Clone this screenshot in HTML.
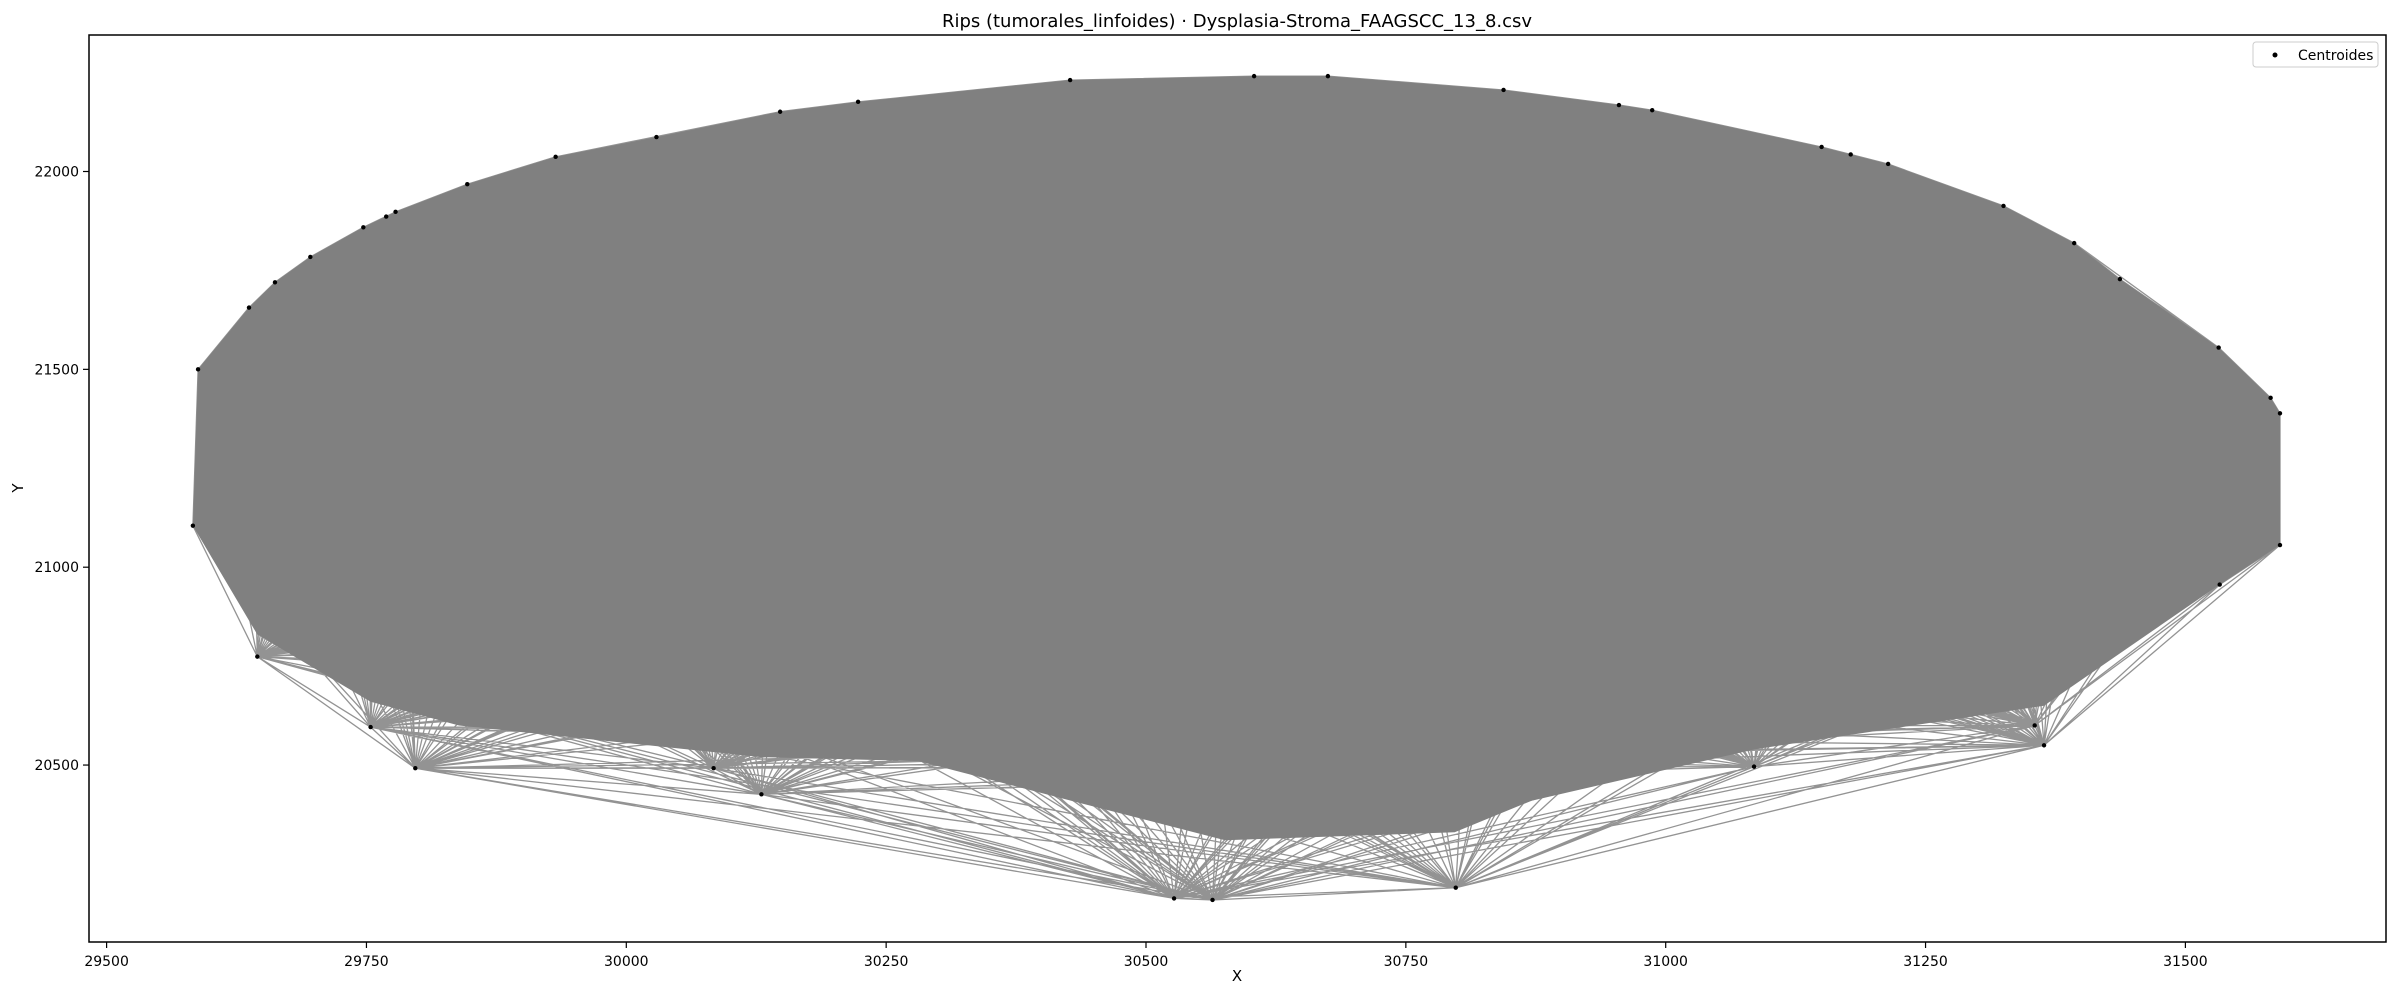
<!DOCTYPE html>
<html><head><meta charset="utf-8"><style>
html,body{margin:0;padding:0;background:#fff;}
svg{display:block;font-family:"DejaVu Sans","Liberation Sans",sans-serif;}
</style></head><body>
<svg id="chart" width="2400" height="1000" viewBox="0 0 2400 1000" xmlns="http://www.w3.org/2000/svg">
<rect x="0" y="0" width="2400" height="1000" fill="#fff"/>
<text x="1237" y="27" font-size="18" text-anchor="middle" fill="#000">Rips (tumorales_linfoides) · Dysplasia-Stroma_FAAGSCC_13_8.csv</text>
<g id="plot"></g>
<rect x="89" y="35" width="2297" height="907" fill="none" stroke="#000" stroke-width="1.5"/>
<g id="axes"></g>
<text x="1237" y="981" font-size="15" text-anchor="middle">X</text>
<text x="23" y="488" font-size="15" text-anchor="middle" transform="rotate(-90 23 488)">Y</text>
<g>
<rect x="2253" y="42" width="125" height="25" rx="3" fill="#fff" stroke="#ccc" stroke-width="1"/>
<circle cx="2275" cy="55" r="2.5" fill="#000"/>
<text x="2298" y="60" font-size="14">Centroides</text>
</g>
</svg>
<script>
const ptX = [29588,29583,29645,29754,29797,30084,30130,30527,30564,30798,31085,31355,31364,31533,31591,31591,31582,31532,31437,31393,31325,31214,31178,31150,30987,30955,30844,30675,30604,30427,30223,30148,30029,29932,29847,29778,29769,29747,29696,29662,29637];
const ptY = [21500,21105,20774,20596,20492,20492,20426,20163,20159,20190,20496,20600,20550,20956,21056,21389,21428,21555,21728,21819,21913,22019,22043,22062,22155,22168,22206,22241,22241,22231,22176,22151,22087,22037,21968,21898,21886,21859,21784,21720,21656];
const denseX = [29588,29637,29662,29696,29747,29778,29847,29932,30029,30148,30223,30427,30604,30675,30844,30955,30987,31150,31178,31214,31325,31393,31437,31532,31582,31591,31591,31533,31364,31086,30871,30797,30576,30428,30281,30130,29839,29754,29645,29583];
const denseY = [21500,21656,21720,21784,21859,21898,21968,22037,22087,22151,22176,22231,22241,22241,22206,22168,22155,22062,22043,22019,21913,21819,21728,21555,21428,21389,21056,20956,20650,20540,20410,20330,20310,20410,20510,20520,20600,20660,20830,21105];
const xTicks = [29500,29750,30000,30250,30500,30750,31000,31250,31500];
const yTicks = [20500,21000,21500,22000];

const NS = "http://www.w3.org/2000/svg";
function sx(v){ return 106.6 + (v - 29500) * 1.0394; }
function sy(v){ return 171.5 - (v - 22000) * 0.3957; }
function mk(tag, attrs, parent){ const e = document.createElementNS(NS, tag); for (const k in attrs) e.setAttribute(k, attrs[k]); parent.appendChild(e); return e; }

const plot = document.getElementById('plot');
const edges = mk('g', {}, plot);


let d = '';
for (let i = 0; i < ptX.length; i++) {
  for (let j = i + 1; j < ptX.length; j++) {
    d += 'M' + sx(ptX[i]).toFixed(1) + ' ' + sy(ptY[i]).toFixed(1) + 'L' + sx(ptX[j]).toFixed(1) + ' ' + sy(ptY[j]).toFixed(1);
  }
}
const ep = mk('path', {d: d, stroke: '#808080', 'stroke-width': '1.3', 'stroke-opacity': '0.85', fill: 'none'}, edges);



const poly = mk('polygon', {points: denseX.map((v, i) => sx(v).toFixed(1) + ',' + sy(denseY[i]).toFixed(1)).join(' '), fill: '#808080'}, plot);



const pts = mk('g', {}, plot);


for (let i = 0; i < ptX.length; i++) {
  const c = mk('circle', {cx: sx(ptX[i]), cy: sy(ptY[i]), r: 2.2, fill: '#000'}, pts);
  
  
}

const axes = document.getElementById('axes');
xTicks.forEach(t => {
  const x = sx(t);
  const l = mk('line', {x1: x, y1: 942, x2: x, y2: 948, stroke: '#000', 'stroke-width': 1.2}, axes);
  
  
  const tx = mk('text', {x: x, y: 966, 'font-size': 14, 'text-anchor': 'middle'}, axes);
  tx.textContent = t;
  
  
});
yTicks.forEach(t => {
  const y = sy(t);
  const l = mk('line', {x1: 83, y1: y, x2: 89, y2: y, stroke: '#000', 'stroke-width': 1.2}, axes);
  
  
  const tx = mk('text', {x: 79, y: y + 5, 'font-size': 14, 'text-anchor': 'end'}, axes);
  tx.textContent = t;
  
  
});
</script>
</body></html>
